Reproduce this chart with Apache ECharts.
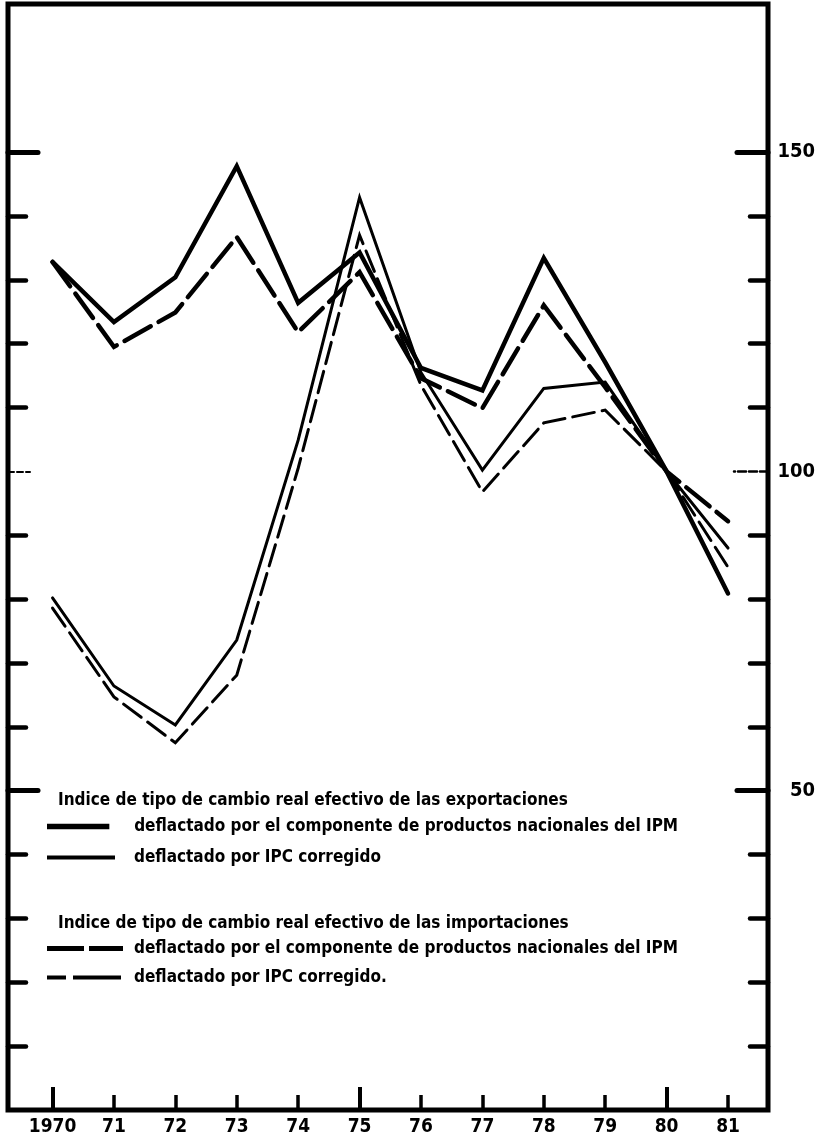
<!DOCTYPE html>
<html>
<head>
<meta charset="utf-8">
<script src="https://cdn.jsdelivr.net/npm/echarts@6/dist/echarts.min.js"></script>
<style>
html,body{margin:0;padding:0;background:#fff;}
#chart{width:823px;height:1137px;}
</style>
</head>
<body>
<div id="chart"></div>
<script>
// ---- data ----
var years = [1970, 1971, 1972, 1973, 1974, 1975, 1976, 1977, 1978, 1979, 1980, 1981];
var yearLabels = ['1970', '71', '72', '73', '74', '75', '76', '77', '78', '79', '80', '81'];
var expIPM = [132.8, 123.4, 130.4, 147.8, 126.4, 134.3, 116.2, 112.7, 133.4, 117.1, 100, 80.9];
var expIPC = [80.2, 66.4, 60.3, 73.6, 104.9, 142.9, 115.5, 100.2, 113.0, 114.0, 100, 88.0];
var impIPM = [132.8, 119.5, 124.9, 136.7, 121.8, 131.2, 114.6, 109.9, 126.0, 113.2, 100, 92.2];
var impIPC = [78.6, 64.7, 57.5, 68.1, 100.5, 137.0, 113.5, 96.8, 107.6, 109.6, 100, 85.0];
var minorTicks = [10, 20, 30, 40, 60, 70, 80, 90, 110, 120, 130, 140];
var majorTicks = [50, 150];
var midTick = [100];
var rightLabels = [50, 100, 150];
var majorYears = [1970, 1975, 1980];
var headingExp = 'Indice de tipo de cambio real efectivo de las exportaciones';
var headingImp = 'Indice de tipo de cambio real efectivo de las importaciones';
var legendNames = {
  'expIPM': 'deflactado por el componente de productos nacionales del IPM',
  'expIPC': 'deflactado por IPC corregido',
  'impIPM': 'deflactado por el componente de productos nacionales del IPM',
  'impIPC': 'deflactado por IPC corregido.'
};

function pairs(vals) { return years.map(function (y, i) { return [y, vals[i]]; }); }

var FONT = "'Liberation Sans Narrow', 'DejaVu Sans Condensed', sans-serif";
var YMAX = 173.2;
var XMIN = 1969.275, XMAX = 1981.651;

function yAx(pos, ticks, len, width, type, labels) {
  return {
    type: 'value', position: pos, min: 0, max: YMAX,
    axisLine: { show: false },
    splitLine: { show: false },
    axisTick: { show: true, inside: true, length: len, customValues: ticks,
      lineStyle: { color: '#000', width: width, type: type || 'solid', cap: 'round' } },
    axisLabel: labels ? { show: true, customValues: labels, color: '#000', fontFamily: FONT,
      fontWeight: 'bold', fontSize: 20, align: 'right', margin: 47 } : { show: false }
  };
}

function legendItem(name, top, icon, w, h, pad) {
  return {
    data: [{ name: name, icon: icon }], orient: 'vertical', left: 47, top: top, padding: 0,
    itemWidth: w, itemHeight: h, selectedMode: false,
    itemStyle: { color: '#000', borderWidth: 0 },
    formatter: function (n) { return legendNames[n]; },
    textStyle: { fontFamily: FONT, fontWeight: 'bold', fontSize: 17, color: '#000', padding: [0, 0, 0, pad] }
  };
}

var chart = echarts.init(document.getElementById('chart'), null, { renderer: 'canvas' });
var option = {
  backgroundColor: '#fff',
  animation: false,
  grid: { left: 8, right: 55, top: 4, bottom: 27, show: true, borderColor: '#000', borderWidth: 5, backgroundColor: 'transparent' },
  title: [
    { text: headingExp, left: 58, top: 792, padding: 0, textStyle: { fontFamily: FONT, fontWeight: 'bold', fontSize: 17, color: '#000' } },
    { text: headingImp, left: 58, top: 915, padding: 0, textStyle: { fontFamily: FONT, fontWeight: 'bold', fontSize: 17, color: '#000' } }
  ],
  legend: [
    legendItem('expIPM', 818, 'path://M0,0H68V6H0Z', 68, 5.5, 17),
    legendItem('expIPC', 849, 'path://M0,0H68V4H0Z', 68, 4, 14),
    legendItem('impIPM', 940, 'path://M0,0H37V5H0Z M42,0H76V5H42Z', 76, 5, 6),
    legendItem('impIPC', 969, 'path://M0,0H19V4H0Z M26,0H74V4H26Z', 74, 4.5, 8)
  ],
  xAxis: [
    { type: 'value', min: XMIN, max: XMAX, position: 'bottom',
      axisLine: { show: false }, splitLine: { show: false },
      axisTick: { show: true, inside: true, length: 15, customValues: years, lineStyle: { color: '#000', width: 3.5 } },
      axisLabel: { show: true, customValues: years, margin: 8, color: '#000', fontFamily: FONT, fontWeight: 'bold', fontSize: 19,
        formatter: function (v) { var i = years.indexOf(Math.round(v)); return i >= 0 ? yearLabels[i] : ''; } } },
    { type: 'value', min: XMIN, max: XMAX, position: 'bottom',
      axisLine: { show: false }, splitLine: { show: false },
      axisTick: { show: true, inside: true, length: 23, customValues: majorYears, lineStyle: { color: '#000', width: 4 } },
      axisLabel: { show: false } }
  ],
  yAxis: [
    yAx('left', minorTicks, 18, 4.5),
    yAx('left', majorTicks, 30, 5),
    yAx('left', midTick, 22, 2, [6, 3]),
    yAx('right', minorTicks, 18, 4.5),
    yAx('right', majorTicks, 31, 5, 'solid', rightLabels),
    yAx('right', midTick, 34, 2.5, [8, 3])
  ],
  series: [
    { name: 'expIPM', type: 'line', data: pairs(expIPM), symbol: 'none', xAxisIndex: 0, yAxisIndex: 0,
      itemStyle: { color: '#000' },
      lineStyle: { color: '#000', width: 4.5, type: 'solid', cap: 'round', join: 'miter' } },
    { name: 'expIPC', type: 'line', data: pairs(expIPC), symbol: 'none', xAxisIndex: 0, yAxisIndex: 0,
      itemStyle: { color: '#000' },
      lineStyle: { color: '#000', width: 3, type: 'solid', cap: 'round', join: 'miter' } },
    { name: 'impIPM', type: 'line', data: pairs(impIPM), symbol: 'none', xAxisIndex: 0, yAxisIndex: 0,
      itemStyle: { color: '#000' },
      lineStyle: { color: '#000', width: 4.5, type: [30, 9], cap: 'round', join: 'miter' } },
    { name: 'impIPC', type: 'line', data: pairs(impIPC), symbol: 'none', xAxisIndex: 0, yAxisIndex: 0,
      itemStyle: { color: '#000' },
      lineStyle: { color: '#000', width: 3, type: [22, 8], cap: 'round', join: 'miter' } }
  ]
};
chart.setOption(option);
</script>
</body>
</html>
